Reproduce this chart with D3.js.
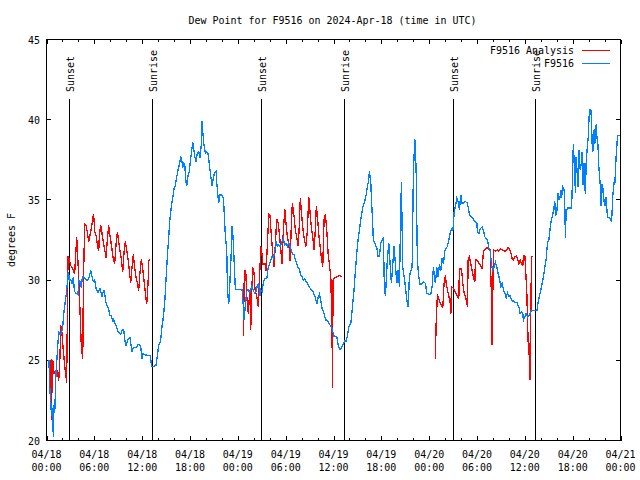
<!DOCTYPE html>
<html><head><meta charset="utf-8">
<script src="https://cdn.jsdelivr.net/npm/d3@7"></script>
<style>body{margin:0;background:#fff}svg{display:block}</style>
</head><body><div id="chart"></div>
<script>
const titleText = "Dew Point for F9516 on 2024-Apr-18 (time in UTC)";
const yLabel = "degrees F";
const seriesNames = ["F9516 Analysis", "F9516"];
const seriesColors = ["#ff0000", "#0080ff"];
const yTicks = [20, 25, 30, 35, 40, 45];
const xTickHours = [0, 6, 12, 18, 24, 30, 36, 42, 48, 54, 60, 66, 72];
const xTickDates = ["04/18","04/18","04/18","04/18","04/19","04/19","04/19","04/19","04/20","04/20","04/20","04/20","04/21"];
const xTickTimes = ["00:00","06:00","12:00","18:00","00:00","06:00","12:00","18:00","00:00","06:00","12:00","18:00","00:00"];
const sunEvents = [[2.86,"Sunset"],[13.27,"Sunrise"],[26.95,"Sunset"],[37.37,"Sunrise"],[51.04,"Sunset"],[61.33,"Sunrise"]];

// hours since 2024-04-18 00:00 UTC, dew point (F)
const analysis = [
[0.55,25.0],[0.6,21.3],[0.66,21.3],[0.69,25.0],[0.86,24.9],[0.94,24.2],[1.19,24.2],[1.36,24.3],[1.53,23.7],[1.69,25.2],[1.78,27.2],[1.94,26.7],[2.11,25.6],[2.32,24.5],[2.53,23.6],[2.61,27.6],[2.70,31.5],[2.86,31.3],[3.03,30.9],[3.20,30.8],[3.37,30.6],[3.53,30.4],[3.70,31.9],[3.79,32.7],[3.87,31.9],[4.04,30.2],[4.20,28.1],[4.37,25.8],[4.55,25.1],[4.62,29.6],[4.79,33.5],[4.96,33.4],[5.12,33.0],[5.29,32.4],[5.37,32.6],[5.54,33.0],[5.71,33.5],[5.88,34.1],[5.96,33.8],[6.04,33.0],[6.21,32.8],[6.38,32.2],[6.55,31.8],[6.63,32.8],[6.80,33.4],[6.88,33.2],[7.05,32.6],[7.13,32.4],[7.30,31.9],[7.47,31.4],[7.63,32.5],[7.80,33.4],[7.88,33.0],[8.05,32.5],[8.22,31.9],[8.39,31.3],[8.55,31.0],[8.72,32.2],[8.89,33.0],[9.06,32.4],[9.22,31.8],[9.39,31.3],[9.56,30.5],[9.72,31.7],[9.89,32.4],[10.06,31.9],[10.23,31.3],[10.39,30.6],[10.56,29.8],[10.73,30.8],[10.89,31.6],[11.06,30.8],[11.23,30.2],[11.40,29.8],[11.56,29.3],[11.73,30.5],[11.90,31.3],[12.07,30.7],[12.23,30.0],[12.40,29.2],[12.57,28.5],[12.74,29.8],[12.82,31.2],[12.99,31.3],
[18.0,null],
[24.69,26.5],[24.82,30.6],[24.99,30.6],[25.12,29.0],[25.32,27.9],[25.50,29.4],[25.62,26.9],[25.75,29.4],[25.87,30.8],[26.04,30.4],[26.16,29.4],[26.37,29.0],[26.57,28.3],[26.70,29.8],[26.88,32.1],[27.00,31.8],[27.13,31.0],[27.42,31.0],[27.54,30.6],[27.70,32.1],[27.88,34.1],[28.04,34.0],[28.21,32.7],[28.38,31.7],[28.54,30.8],[28.71,32.3],[28.88,33.8],[29.05,33.6],[29.21,32.9],[29.39,31.9],[29.55,31.0],[29.71,33.1],[29.89,34.4],[30.05,33.5],[30.21,32.7],[30.39,32.3],[30.55,31.2],[30.72,33.5],[30.84,34.8],[31.05,34.0],[31.22,33.1],[31.39,32.7],[31.56,32.1],[31.68,33.1],[31.84,35.1],[32.02,34.0],[32.18,33.1],[32.35,32.5],[32.56,32.1],[32.72,33.1],[32.90,35.2],[33.06,34.2],[33.22,33.3],[33.40,32.7],[33.56,31.9],[33.69,32.9],[33.85,34.6],[33.98,34.0],[34.15,32.9],[34.32,32.1],[34.53,31.2],[34.65,30.8],[34.82,33.8],[34.98,34.1],[35.16,33.1],[35.32,31.7],[35.48,31.0],[35.66,30.2],[35.82,26.9],[35.86,23.3],[35.95,30.0],[36.07,30.1],[36.41,30.2],[36.74,30.3],[37.04,30.2],
[42.0,null],
[48.78,25.1],[48.87,27.2],[49.03,29.1],[49.21,28.85],[49.37,28.6],[49.54,28.4],[49.71,28.3],[49.87,29.8],[50.04,30.3],[50.13,29.8],[50.29,29.4],[50.46,29.0],[50.63,28.6],[50.72,27.9],[50.79,29.6],[51.04,29.5],[51.29,29.2],[51.54,29.0],[51.72,28.85],[51.79,30.7],[52.05,30.7],[52.22,29.8],[52.38,29.2],[52.55,29.0],[52.72,28.6],[52.80,28.3],[52.89,31.25],[53.05,31.45],[53.22,31.0],[53.39,30.6],[53.55,30.2],[53.73,29.9],[53.80,31.25],[53.98,31.25],[54.14,31.15],[54.30,31.0],[54.48,30.9],[54.64,30.7],[54.81,31.8],[54.98,31.9],[55.14,32.0],[55.31,32.0],[55.48,31.9],[55.65,31.9],[55.81,29.0],[55.86,26.0],[55.93,26.0],[55.98,29.0],[56.06,31.9],[56.31,31.8],[56.56,31.9],[56.74,31.8],[56.90,31.95],[57.15,31.9],[57.32,31.85],[57.49,31.8],[57.74,31.9],[57.90,32.05],[58.07,31.9],[58.24,31.7],[58.41,31.35],[58.57,31.25],[58.75,31.45],[58.91,31.5],[59.07,31.35],[59.25,31.0],[59.41,31.25],[59.57,31.0],[59.75,30.9],[59.82,31.5],[60.00,31.5],[60.08,30.9],[60.25,29.2],[60.33,27.7],[60.41,26.2],[60.50,26.2],[60.58,24.6],[60.66,23.8],[60.75,27.7],[60.83,31.45],[61.00,31.45]
];

const station = [
[0.15,25.0],[0.3,25.0],[0.44,23.0],[0.55,22.3],[0.62,21.5],[0.7,22.0],[0.78,21.2],[0.86,20.2],[0.94,22.1],[1.05,22.0],[1.19,24.2],[1.36,25.5],[1.53,26.8],[1.7,26.6],[1.86,26.7],[2.03,27.1],[2.2,28.1],[2.45,29.0],[2.61,29.8],[2.7,30.4],[2.78,30.5],[2.86,29.9],[3.03,30.0],[3.2,29.8],[3.37,30.2],[3.5,29.3],[3.66,29.2],[3.95,29.1],[4.05,30.0],[4.2,29.9],[4.37,29.5],[4.5,30.2],[4.62,30.2],[5.0,30.0],[5.2,30.0],[5.37,30.2],[5.55,30.6],[5.62,30.4],[5.87,29.9],[6.05,30.0],[6.21,29.5],[6.46,29.2],[6.71,29.5],[6.96,29.0],[7.21,29.4],[7.46,28.6],[7.8,28.2],[7.95,27.8],[8.13,27.8],[8.3,27.4],[8.38,27.6],[8.55,27.3],[8.72,27.2],[8.97,26.8],[9.3,26.6],[9.5,26.9],[9.68,26.9],[9.9,26.0],[9.97,25.9],[10.2,26.3],[10.48,26.4],[10.73,25.5],[10.9,25.8],[11.3,25.8],[11.5,26.0],[11.8,25.9],[11.98,25.1],[12.1,25.4],[12.65,25.3],[13.0,25.3],[13.2,24.6],[13.32,24.6],[13.74,24.7],[13.9,25.3],[14.07,25.9],[14.32,26.25],[14.49,27.1],[14.66,27.7],[14.83,28.6],[14.99,30.0],[15.16,31.5],[15.33,32.7],[15.5,33.9],[15.66,34.6],[15.83,35.1],[16.0,35.7],[16.16,35.9],[16.33,36.4],[16.5,36.9],[16.67,37.2],[16.83,37.7],[17.0,37.4],[17.08,37.0],[17.17,37.3],[17.34,37.2],[17.5,36.1],[17.59,35.9],[17.75,36.5],[17.92,36.8],[18.0,37.2],[18.17,37.9],[18.34,38.6],[18.42,38.4],[18.59,37.7],[18.76,37.4],[18.92,37.9],[19.09,38.0],[19.26,37.6],[19.43,38.5],[19.51,39.9],[19.59,39.3],[19.76,38.4],[19.93,37.9],[20.1,38.0],[20.26,37.9],[20.43,37.2],[20.6,36.5],[20.77,35.9],[20.93,36.4],[21.1,36.7],[21.27,36.8],[21.35,36.1],[21.52,35.2],[21.6,34.8],[21.77,35.3],[22.02,35.3],[22.19,35.1],[22.27,34.4],[22.44,32.7],[22.61,31.9],[22.69,29.6],[22.77,29.0],[22.86,28.5],[22.94,29.2],[23.11,31.0],[23.19,31.9],[23.27,33.4],[23.36,32.9],[23.44,32.3],[23.69,29.4],[24.28,29.4],[24.53,29.4],[24.7,28.3],[24.78,27.5],[24.95,28.5],[25.12,29.3],[25.28,29.4],[25.45,29.2],[25.62,29.4],[25.78,29.7],[25.95,29.3],[26.12,29.2],[26.29,29.3],[26.45,29.7],[26.62,29.8],[26.78,29.0],[26.87,29.4],[27.04,29.3],[27.21,29.9],[27.37,30.1],
[27.63,30.1],[27.79,30.7],[27.95,31.0],[28.13,31.25],[28.29,31.45],[28.46,31.35],[28.63,31.8],[28.80,32.4],[28.96,32.1],[29.13,32.2],[29.30,32.1],[29.46,32.3],[29.64,32.5],[29.71,32.6],[29.89,32.2],[30.05,32.3],[30.21,32.1],[30.39,32.3],[30.55,32.1],[30.72,31.8],[30.89,31.6],[31.05,31.6],[31.22,31.25],[31.39,31.0],[31.56,30.8],[31.72,30.7],[31.89,30.3],[32.06,30.2],[32.22,30.0],[32.40,30.1],[32.56,29.9],[32.72,29.8],[32.90,29.6],[33.06,29.5],[33.22,29.4],[33.40,29.3],[33.56,29.1],[33.73,28.9],[33.90,28.5],[34.07,28.9],[34.23,29.1],[34.40,28.75],[34.57,28.2],[34.73,28.1],[34.91,27.7],[35.07,27.5],[35.23,27.5],[35.41,27.3],[35.57,27.2],[35.73,27.1],[35.91,26.8],[36.07,26.5],[36.24,26.5],[36.41,26.5],[36.57,26.0],[36.74,25.7],[36.91,25.7],[37.08,25.9],[37.24,26.0],[37.41,26.2],[37.58,26.2],[37.74,26.5],[37.92,27.1],[38.17,27.3],[38.33,28.1],[38.58,29.4],[38.75,30.6],[38.92,31.7],[39.08,32.5],[39.25,33.1],[39.42,33.8],[39.59,34.3],[39.75,34.7],[39.92,34.9],[40.09,35.3],[40.25,35.8],[40.43,36.3],[40.50,36.8],[40.68,36.1],[40.75,35.2],[40.88,33.9],[41.00,32.5],[41.18,32.3],[41.43,32.0],[41.59,31.5],[41.76,31.5],[41.93,32.3],[42.10,32.5],[42.26,32.6],[42.38,29.6],[42.51,29.0],[42.60,29.8],[42.76,31.3],[42.94,32.3],[43.10,31.0],[43.26,29.8],[43.44,31.0],[43.60,32.1],[43.76,31.0],[43.94,29.8],[44.10,30.6],[44.27,29.6],[44.44,34.4],[44.52,36.1],[44.61,33.1],[44.69,30.8],[44.86,30.2],[45.02,29.6],[45.19,28.8],[45.36,28.3],[45.52,30.2],[45.70,30.6],[45.86,30.8],[46.02,36.7],[46.20,38.8],[46.36,37.0],[46.52,31.2],[46.70,30.2],[46.86,29.7],[47.11,29.8],[47.28,29.9],[47.53,29.8],[47.70,29.2],[47.95,29.1],[48.21,29.1],[48.37,29.6],[48.53,30.8],[48.62,30.4],[48.78,29.8],[48.96,30.8],[49.12,30.2],[49.29,31.0],[49.46,30.6],[49.62,31.4],[49.79,31.0],[49.96,31.8],[50.13,32.0],[50.29,32.1],[50.46,32.5],[50.63,32.9],[50.79,33.2],[50.97,33.1],[51.04,33.5],[51.13,34.2],[51.29,34.6],[51.47,35.1],[51.63,34.9],[51.79,34.4],[51.97,35.3],[52.13,34.8],[52.30,34.8],[52.55,34.9],[52.80,34.8],[52.97,34.3],[53.14,34.0],[53.39,33.9],[53.55,33.8],[53.80,33.6],[53.98,33.6],[54.05,33.0],[54.23,32.9],[54.39,33.2],[54.64,33.3],[54.81,33.1],[54.98,32.7],[55.14,32.6],[55.31,32.5],[55.48,32.0],[55.65,31.8],[55.81,31.0],[55.98,30.6],[56.15,30.8],[56.31,31.1],[56.49,30.8],[56.65,30.4],[56.81,30.1],[56.99,29.6],[57.15,29.8],[57.32,29.4],[57.49,29.2],[57.65,28.9],[57.82,29.2],[57.99,29.0],[58.16,29.0],[58.41,28.7],[58.57,28.7],[58.82,28.6],[59.00,28.6],[59.16,28.4],[59.32,28.2],[59.41,27.9],[59.57,28.0],[59.75,27.9],[59.82,27.5],[60.00,27.7],[60.16,27.9],[60.33,27.7],[60.50,27.8],[60.66,27.9],[60.83,28.1],[61.08,28.1],[61.33,28.1],[61.51,28.1],[61.67,28.6],[61.83,29.0],[62.01,29.4],[62.17,29.8],[62.33,30.2],[62.51,30.8],[62.67,31.3],[62.84,32.3],[63.01,32.5],[63.17,33.2],[63.34,33.8],[63.51,34.1],[63.68,34.6],[63.76,34.9],[63.84,34.0],[64.02,34.3],[64.18,35.4],[64.27,35.0],[64.43,35.2],[64.52,35.6],[64.59,35.1],[64.77,35.8],[64.93,35.6],[65.02,34.4],[65.09,32.6],[65.18,34.3],[65.35,34.5],[65.68,34.5],[65.85,34.5],[65.93,35.4],[66.02,37.7],[66.10,38.5],[66.19,37.3],[66.27,36.4],[66.35,35.4],[66.44,37.7],[66.60,36.4],[66.69,35.8],[66.78,38.1],[66.94,36.9],[67.10,37.3],[67.19,38.0],[67.27,36.0],[67.36,36.0],[67.44,37.3],[67.53,35.8],[67.60,35.4],[67.69,37.3],[67.78,37.9],[67.86,38.5],[67.94,38.8],[68.03,39.8],[68.11,40.6],[68.28,40.6],[68.36,40.0],[68.44,38.5],[68.53,38.0],[68.61,38.5],[68.70,39.4],[68.78,38.5],[68.86,39.0],[68.95,39.7],[69.03,38.8],[69.11,39.0],[69.20,38.1],[69.28,37.1],[69.45,36.0],[69.54,34.6],[69.62,35.0],[69.70,36.0],[69.78,35.8],[69.86,35.2],[70.04,34.6],[70.20,35.2],[70.29,34.4],[70.37,33.9],[70.62,33.9],[70.79,33.8],[70.87,33.6],[70.95,34.3],[71.04,35.3],[71.20,36.1],[71.29,36.0],[71.37,36.9],[71.46,37.8],[71.54,38.3],[71.62,39.0],[71.96,39.0]
];

const W = 640, H = 480;
const L = 46.5, R = 620.5, T = 39.5, B = 440.5;
const FONT = "'DejaVu Sans Mono', 'Liberation Mono', monospace";
const FS = 11, CW = 6;

const svg = d3.select("#chart").append("svg").attr("width", W).attr("height", H)
  .style("font-family", FONT).style("font-size", FS + "px");
svg.append("rect").attr("width", W).attr("height", H).attr("fill", "#fff");

const x = d3.scaleLinear().domain([0, 72]).range([L, R]);
const y = d3.scaleLinear().domain([20, 45]).range([B, T]);

function fit(sel) {
  sel.each(function() {
    const t = d3.select(this).text();
    d3.select(this).attr("textLength", t.length * CW).attr("lengthAdjust", "spacingAndGlyphs");
  });
  return sel;
}

svg.append("clipPath").attr("id", "clip").append("rect")
  .attr("x", L).attr("y", T).attr("width", R - L).attr("height", B - T);

// x ticks (bottom & top), major every 6h, minor every 2h
const minorHours = d3.range(0, 73, 2).filter(h => h % 6 !== 0);
const tickG = svg.append("g").attr("stroke", "#000").attr("stroke-width", 1).attr("shape-rendering", "crispEdges");
xTickHours.forEach(h => {
  const px = Math.round(x(h)) + 0.5;
  tickG.append("line").attr("x1", px).attr("x2", px).attr("y1", B).attr("y2", B - 4.5);
  tickG.append("line").attr("x1", px).attr("x2", px).attr("y1", T).attr("y2", T + 4.5);
});
minorHours.forEach(h => {
  const px = Math.round(x(h)) + 0.5;
  tickG.append("line").attr("x1", px).attr("x2", px).attr("y1", B).attr("y2", B - 2.5);
  tickG.append("line").attr("x1", px).attr("x2", px).attr("y1", T).attr("y2", T + 2.5);
});
yTicks.forEach(v => {
  const py = Math.round(y(v) - 0.5) + 0.5;
  tickG.append("line").attr("x1", L).attr("x2", L + 4.5).attr("y1", py).attr("y2", py);
  tickG.append("line").attr("x1", R).attr("x2", R - 4.5).attr("y1", py).attr("y2", py);
});

// tick labels
xTickHours.forEach((h, i) => {
  fit(svg.append("text").attr("x", x(h)).attr("y", 458).attr("text-anchor", "middle").text(xTickDates[i]));
  fit(svg.append("text").attr("x", x(h)).attr("y", 471).attr("text-anchor", "middle").text(xTickTimes[i]));
});
yTicks.forEach(v => {
  fit(svg.append("text").attr("x", 40).attr("y", y(v) + 4).attr("text-anchor", "end").text(String(v)));
});

// title and axis label
fit(svg.append("text").attr("x", 332.5).attr("y", 24).attr("text-anchor", "middle").text(titleText));
fit(svg.append("text").attr("transform", "translate(15," + ((T + B) / 2) + ") rotate(-90)")
  .attr("text-anchor", "middle").text(yLabel));

// sun lines
const sunG = svg.append("g");
sunEvents.forEach(([h, label]) => {
  const px = Math.round(x(h)) + 0.5;
  sunG.append("line").attr("x1", px).attr("x2", px).attr("y1", 99).attr("y2", B)
    .attr("stroke", "#000").attr("stroke-width", 1).attr("shape-rendering", "crispEdges");
  fit(sunG.append("text").attr("transform", "translate(" + (px + 4) + ",92) rotate(-90)")
    .attr("text-anchor", "start").text(label));
});

// data lines
const line = d3.line().defined(d => d[1] != null).x(d => x(d[0])).y(d => y(d[1]));
const dataG = svg.append("g").attr("clip-path", "url(#clip)");
dataG.append("path").datum(analysis).attr("d", line).attr("fill", "none")
  .attr("stroke", seriesColors[0]).attr("stroke-width", 1.3).attr("shape-rendering", "crispEdges");
dataG.append("path").datum(station).attr("d", line).attr("fill", "none")
  .attr("stroke", seriesColors[1]).attr("stroke-width", 1.3).attr("shape-rendering", "crispEdges");

// border
svg.append("rect").attr("x", L).attr("y", T).attr("width", R - L).attr("height", B - T)
  .attr("fill", "none").attr("stroke", "#000").attr("stroke-width", 1).attr("shape-rendering", "crispEdges");

// legend
seriesNames.forEach((name, i) => {
  const ly = 50 + i * 12.7;
  fit(svg.append("text").attr("x", 574).attr("y", ly + 4).attr("text-anchor", "end").text(name));
  svg.append("line").attr("x1", 581.5).attr("x2", 609.5).attr("y1", Math.round(ly) + 0.5).attr("y2", Math.round(ly) + 0.5)
    .attr("stroke", seriesColors[i]).attr("stroke-width", 1).attr("shape-rendering", "crispEdges");
});
</script></body></html>
